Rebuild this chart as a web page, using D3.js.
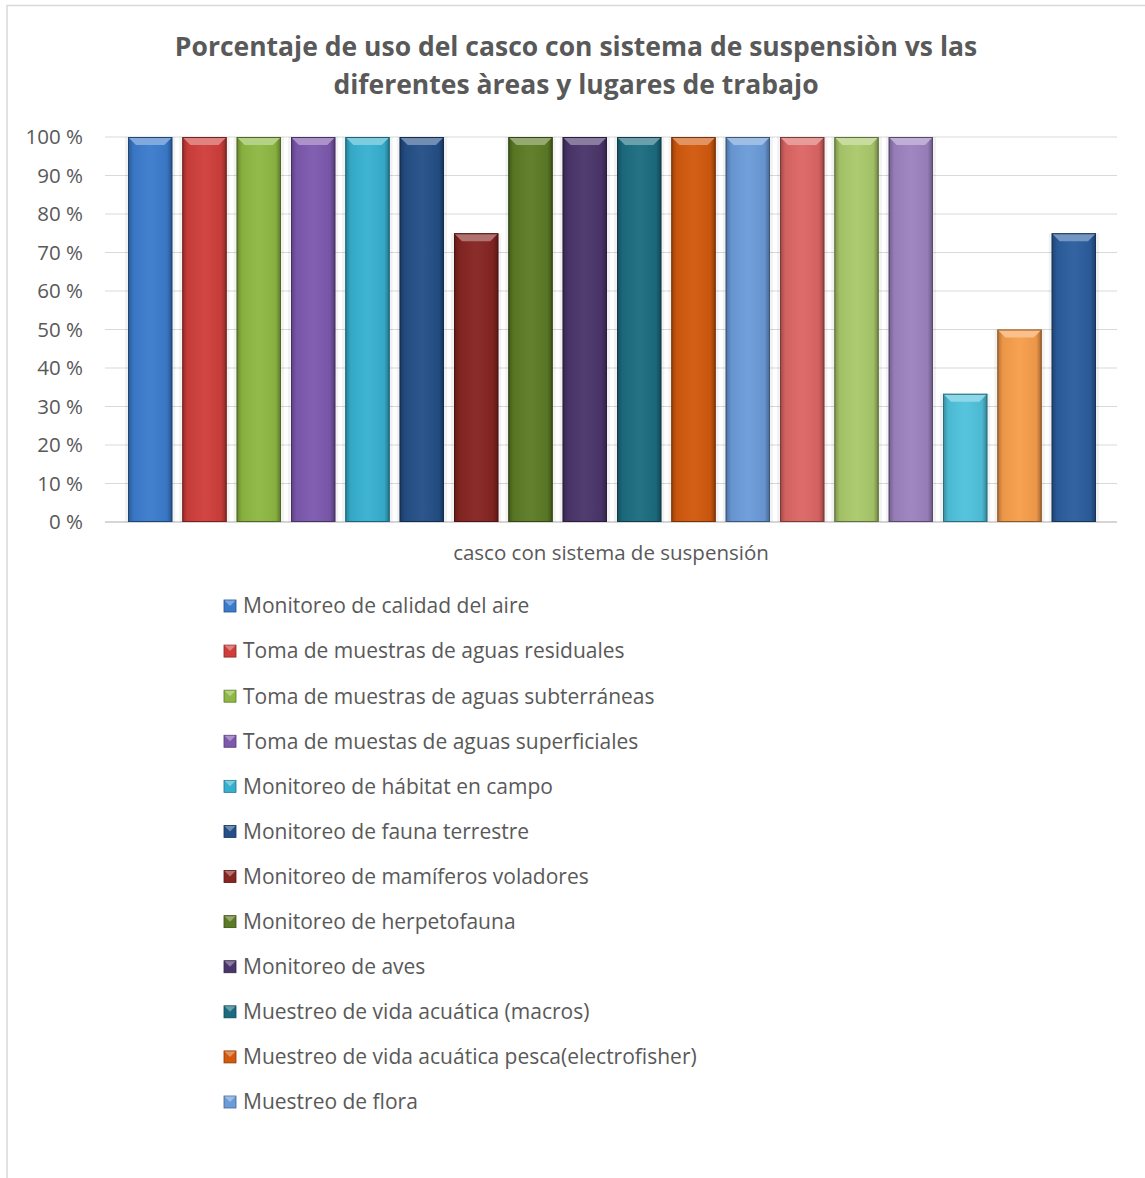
<!DOCTYPE html>
<html><head><meta charset="utf-8">
<script src="https://cdn.jsdelivr.net/npm/d3@7"></script>
<style>
html,body{margin:0;padding:0;background:#fff;}
svg{display:block;}
text{font-family:"Open Sans","Noto Sans",sans-serif;fill:#595959;}
</style></head>
<body>
<script>
const titleLines = ["Porcentaje de uso del casco con sistema de suspensiòn vs las", "diferentes àreas y lugares de trabajo"];
const categoryLabel = "casco con sistema de suspensión";
const series = [
  "Monitoreo de calidad del aire",
  "Toma de muestras de aguas residuales",
  "Toma de muestras de aguas subterráneas",
  "Toma de muestas de aguas superficiales",
  "Monitoreo de hábitat en campo",
  "Monitoreo de fauna terrestre",
  "Monitoreo de mamíferos voladores",
  "Monitoreo de herpetofauna",
  "Monitoreo de aves",
  "Muestreo de vida acuática (macros)",
  "Muestreo de vida acuática pesca(electrofisher)",
  "Muestreo de flora",
  "Serie 13",
  "Serie 14",
  "Serie 15",
  "Serie 16",
  "Serie 17",
  "Serie 18"
];
const values = [100,100,100,100,100,100,75,100,100,100,100,100,100,100,100,33.3,50,75];
const colors = ["#3b7bcc","#cf3e3b","#8db843","#7d59ae","#37b0d0","#244f87","#862522","#5c7b25","#4a356a","#1c6c80","#d2590d","#6b9bd9","#dc6664","#aac96b","#9c82c0","#4fc2dc","#f79d4b","#2b5d9e"];
const yTicks = [0,10,20,30,40,50,60,70,80,90,100];
const legendShown = 12;

const W = 1145, H = 1178;
const svg = d3.select("body").append("svg").attr("width", W).attr("height", H);
const defs = svg.append("defs");

// frame
svg.append("path").attr("d", `M7,${H} V5.5 H${W}`).attr("fill","none").attr("stroke","#d9d9d9").attr("stroke-width",1.5);

// title
svg.append("g").selectAll("text").data(titleLines).join("text")
  .attr("x", 576).attr("y", (d,i)=>56 + i*38)
  .attr("text-anchor","middle").attr("font-size", 26.5).attr("font-weight","bold")
  .text(d=>d);

const y = d3.scaleLinear().domain([0,100]).range([522,137]);
const x = d3.scaleBand().domain(series).range([128, 1096]).paddingInner(0.185).paddingOuter(0);
const gridX0 = 105, gridX1 = 1117;

// gridlines
svg.append("g").selectAll("line").data(yTicks).join("line")
  .attr("x1", gridX0).attr("x2", gridX1)
  .attr("y1", d=>y(d)).attr("y2", d=>y(d))
  .attr("stroke", d=> d===0 ? "#c8c8c8" : "#d9d9d9").attr("stroke-width", d=> d===0?1.5:1.2);

// y axis
const yAxis = svg.append("g").attr("transform",`translate(${gridX0},0)`)
  .call(d3.axisLeft(y).tickValues(yTicks).tickSize(0).tickPadding(22).tickFormat(d=>d+" %"));
yAxis.select(".domain").remove();
yAxis.selectAll("text").attr("font-size",20.5).style("fill","#595959").style("font-family","'Open Sans',sans-serif");

// gradients for shading
const sideGrad = defs.append("linearGradient").attr("id","side").attr("x1","0").attr("x2","1").attr("y1","0").attr("y2","0");
sideGrad.append("stop").attr("offset","0").attr("stop-color","#000").attr("stop-opacity",0.28);
sideGrad.append("stop").attr("offset","0.12").attr("stop-color","#000").attr("stop-opacity",0.05);
sideGrad.append("stop").attr("offset","0.5").attr("stop-color","#fff").attr("stop-opacity",0.04);
sideGrad.append("stop").attr("offset","0.88").attr("stop-color","#000").attr("stop-opacity",0.05);
sideGrad.append("stop").attr("offset","1").attr("stop-color","#000").attr("stop-opacity",0.35);

const data = series.map((s,i)=>({s, v: values[i], c: colors[i]}));
const bars = svg.append("g").selectAll("g").data(data).join("g");

bars.append("rect")
  .attr("x", d=>x(d.s)-3).attr("width", x.bandwidth()+6)
  .attr("y", d=>y(d.v)).attr("height", d=>y(0)-y(d.v))
  .attr("fill","#000").attr("opacity",0.05);
bars.append("rect")
  .attr("x", d=>x(d.s)).attr("width", x.bandwidth())
  .attr("y", d=>y(d.v)).attr("height", d=>y(0)-y(d.v))
  .attr("fill", d=>d.c);
bars.append("rect")
  .attr("x", d=>x(d.s)).attr("width", x.bandwidth())
  .attr("y", d=>y(d.v)).attr("height", d=>y(0)-y(d.v))
  .attr("fill","url(#side)");
const bev = 8;
bars.append("path")
  .attr("d", d=>{const x0=x(d.s), x1=x0+x.bandwidth(), t=y(d.v);
    return `M${x0},${t} H${x1} L${x1-bev},${t+bev} H${x0+bev} Z`;})
  .attr("fill", d=>d3.interpolateRgb(d.c,"#ffffff")(0.35));
bars.append("rect")
  .attr("x", d=>x(d.s)+0.5).attr("width", x.bandwidth()-1)
  .attr("y", d=>y(d.v)+0.5).attr("height", d=>y(0)-y(d.v)-1)
  .attr("fill","none").attr("stroke", d=>d3.color(d.c).darker(1.6)).attr("stroke-width",1);

// category label
svg.append("text").attr("x", 611).attr("y", 560).attr("text-anchor","middle")
  .attr("font-size",20.5).text(categoryLabel);

// legend
const legY = d3.scaleLinear().domain([0, legendShown-1]).range([606, 1102]);
const leg = svg.append("g").selectAll("g").data(data.slice(0, legendShown)).join("g")
  .attr("transform", (d,i)=>`translate(0,${legY(i)})`);
leg.append("rect").attr("x",224).attr("y",-6).attr("width",12).attr("height",12)
  .attr("fill", d=>d.c).attr("stroke", d=>d3.color(d.c).darker(1.2)).attr("stroke-width",0.8);
leg.append("path").attr("d","M224.5,-5.5 H235.5 L230,0 Z")
  .attr("fill", d=>d3.interpolateRgb(d.c,"#ffffff")(0.35));
leg.append("text").attr("x",243).attr("y",0).attr("dy","0.35em")
  .attr("font-size",21).text(d=>d.s);
</script>
</body></html>
